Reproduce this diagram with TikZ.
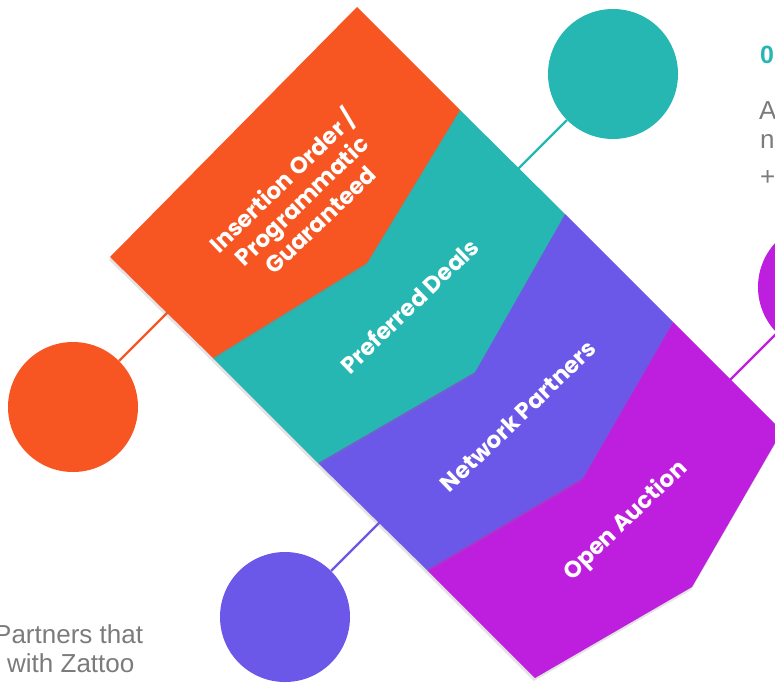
\documentclass[tikz,border=0pt]{standalone}
\usepackage{fontspec}
\setmainfont{Liberation Sans}
\newfontfamily\poppins{Poppins}
\usetikzlibrary{shadows}
\definecolor{ioorange}{HTML}{F75622}
\definecolor{pdteal}{HTML}{27B7B2}
\definecolor{nppurple}{HTML}{6C58E8}
\definecolor{oamagenta}{HTML}{BE1EDE}
\definecolor{txtgray}{HTML}{7B7B7B}
\tikzset{
	band/.style={drop shadow={opacity=0.22,shadow xshift=-1pt,shadow yshift=-3pt}},
	dot/.style={circle,inner sep=0pt,minimum size=130pt},
	stem/.style={line width=2.4pt},
	lbl/.style={text=white,rotate=44,align=center,font=\poppins\bfseries\fontsize{23}{27}\selectfont},
	gray text/.style={text=txtgray,inner sep=0pt,font=\fontsize{26}{30}\selectfont}
}
\begin{document}
\begin{tikzpicture}[x=1pt,y=-1pt]
	\useasboundingbox (0,0) rectangle (775,683);
	\clip (0,0) rectangle (775,683);
		\draw (73,407) node[dot,fill=ioorange](IOdot) {};
		\draw (613,74) node[dot,fill=pdteal](PDdot) {};
		\draw (285,617) node[dot,fill=nppurple](NPdot) {};
		\draw (823,287) node[dot,fill=oamagenta](OAdot) {};
		\coordinate (IOend) at (175,305);
		\coordinate (PDend) at (510,177);
		\coordinate (NPend) at (388,514);
		\coordinate (OAend) at (720,390);
        \draw[stem,ioorange] (IOdot) -- (IOend);
        \draw[stem,pdteal] (PDdot) -- (PDend);
        \draw[stem,nppurple] (NPdot) -- (NPend);
        \draw[stem,oamagenta] (OAdot) -- (OAend);
		\fill[band,oamagenta] (427,570) -- (673,322) -- (782,431) -- (692,587) -- (535,678) -- cycle;
		\fill[band,nppurple] (318,463) -- (565,214) -- (673,322) -- (583,478) -- (427,570) -- cycle;
		\fill[band,pdteal] (213,358) -- (460,110) -- (565,214) -- (475,372) -- (318,463) -- cycle;
		\fill[band,ioorange] (110,257) -- (357,7) -- (460,110) -- (367,263) -- (213,358) -- cycle;
		\draw (300,199) node[lbl](IO) {Insertion Order /\\Programmatic\\Guaranteed};
		\draw (409,306) node[lbl](PD) {Preferred Deals};
		\draw (518,416) node[lbl](NP) {Network Partners};
		\draw (626,521) node[lbl](OA) {Open Auction};
		\draw (760,63) node[gray text,anchor=base west,text=pdteal,font=\bfseries\fontsize{25}{30}\selectfont](num) {0};
		\draw (759,119) node[gray text,anchor=base west](ra) {A};
		\draw (760,148) node[gray text,anchor=base west](rb) {n};
		\draw (760,185) node[gray text,anchor=base west](rc) {+};
		\draw (-6,643) node[gray text,anchor=base west](la) {Partners that};
		\draw (7,672) node[gray text,anchor=base west](lb) {with Zattoo};
\end{tikzpicture}
\end{document}
